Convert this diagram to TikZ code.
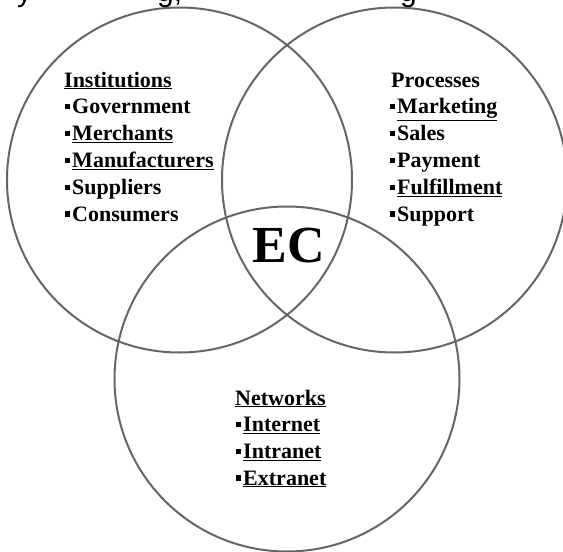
\documentclass[tikz,border=0pt]{standalone}
\usepackage{fontspec}
\setmainfont{Liberation Serif}
\newfontfamily\topfont{Liberation Sans}
\newcommand\bul{\rule[0.2em]{0.24em}{0.24em}\hspace{0.08em}}
\newcommand\ul[1]{\underline{#1}}
\begin{document}
\begin{tikzpicture}[x=1pt,y=-1pt,
  ring/.style={circle, draw=black!60, line width=2pt, inner sep=0pt, minimum size=345pt},
  item/.style={anchor=base west, inner sep=0pt, font=\fontsize{22}{26}\selectfont\bfseries},
  frag/.style={anchor=base west, inner sep=0pt, font=\topfont\fontsize{30}{34}\selectfont}]
\useasboundingbox (0,0) rectangle (563,552);
\fill[white] (0,0) rectangle (563,552);

% descenders of the line of text above the diagram
\begin{scope}
  \clip (0,0) rectangle (563,552);
  \node[frag] (fy) at (17,1) {y};
  \node[frag] (fg) at (157,1) {g,};
  \node[frag] (fh) at (400,1) {g};
\end{scope}

% the three sets
\node[ring] (inst) at (179.5,180) {};
\node[ring] (proc) at (394.5,180) {};
\node[ring] (netw) at (287,379) {};

% Institutions
\node[item] (i0) at (64,87)    {\ul{Institutions}};
\node[item] (i1) at (65,113.8) {\bul Government};
\node[item] (i2) at (65,140.6) {\bul\ul{Merchants}};
\node[item] (i3) at (65,167.4) {\bul\ul{Manufacturers}};
\node[item] (i4) at (65,194.2) {\bul Suppliers};
\node[item] (i5) at (65,221)   {\bul Consumers};

% Processes
\node[item] (p0) at (391,87)    {Processes};
\node[item] (p1) at (390,113.8) {\bul\ul{Marketing}};
\node[item] (p2) at (390,140.6) {\bul Sales};
\node[item] (p3) at (390,167.4) {\bul Payment};
\node[item] (p4) at (390,194.2) {\bul\ul{Fulfillment}};
\node[item] (p5) at (390,221)   {\bul Support};

% Networks
\node[item] (n0) at (235,405) {\ul{Networks}};
\node[item] (n1) at (236,431.7) {\bul\ul{Internet}};
\node[item] (n2) at (236,458.3) {\bul\ul{Intranet}};
\node[item] (n3) at (236,485)   {\bul\ul{Extranet}};

% common core
\node[inner sep=0pt, font=\fontsize{52}{56}\selectfont\bfseries] (ec) at (289,246) {EC};
\end{tikzpicture}
\end{document}
